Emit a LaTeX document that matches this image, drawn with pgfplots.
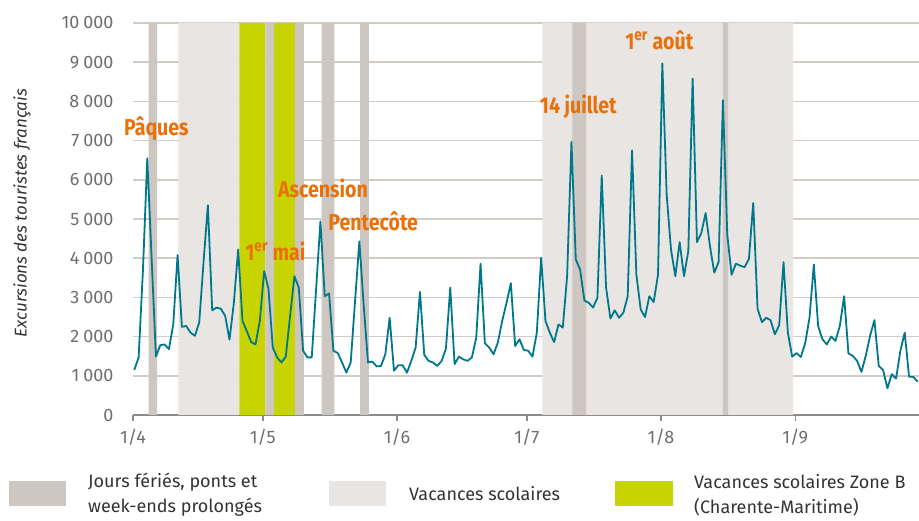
\documentclass[border=0pt]{standalone}
\usepackage{pgfplots}
\pgfplotsset{compat=1.18}
\usepackage{pgfplotstable}
\usepackage{fontspec}
\setmainfont{Fira Sans}
\newfontfamily\annfont[FakeStretch=0.85]{Fira Sans}
\definecolor{holc}{HTML}{CDC6C1}
\definecolor{vacc}{HTML}{E8E5E2}
\definecolor{zoneb}{HTML}{C8D400}
\definecolor{linec}{HTML}{00778B}
\definecolor{orangec}{HTML}{E8710A}
\definecolor{gridc}{HTML}{D2CCC7}
\definecolor{axc}{HTML}{8C8C8C}
\definecolor{tickc}{HTML}{6E6E6E}
\definecolor{txtc}{HTML}{333333}
\newcommand{\band}[3]{\addplot[fill=#3, draw=none, forget plot] coordinates {(#1,0) (#1,10000) (#2,10000) (#2,0)} \closedcycle;}
\pgfplotstableread{
d v
0 1150
1 1470
2 3700
3 6550
4 4000
5 1490
6 1780
7 1800
8 1680
9 2310
10 4080
11 2250
12 2270
13 2100
14 2020
15 2360
16 3900
17 5350
18 2670
19 2740
20 2710
21 2530
22 1920
23 2860
24 4220
25 2400
26 2140
27 1860
28 1800
29 2400
30 3670
31 3220
32 1720
33 1470
34 1340
35 1490
36 2530
37 3540
38 3250
39 1640
40 1470
41 1470
42 3200
43 4940
44 3030
45 3100
46 1640
47 1580
48 1340
49 1080
50 1340
51 2900
52 4430
53 2800
54 1340
55 1360
56 1240
57 1250
58 1550
59 2480
60 1130
61 1270
62 1270
63 1080
64 1380
65 1720
66 3140
67 1530
68 1380
69 1340
70 1250
71 1380
72 1690
73 3250
74 1300
75 1490
76 1420
77 1380
78 1470
79 1970
80 3860
81 1830
82 1720
83 1550
84 1850
85 2400
86 2860
87 3360
88 1760
89 1930
90 1660
91 1640
92 1490
93 2100
94 4010
95 2400
96 2100
97 1860
98 2310
99 2230
100 3540
101 6970
102 3970
103 3710
104 2920
105 2860
106 2740
107 2990
108 6110
109 3250
110 2460
111 2670
112 2480
113 2610
114 3030
115 6750
116 3580
117 2690
118 2500
119 3030
120 2880
121 3580
122 8970
123 5620
124 4220
125 3540
126 4410
127 3540
128 4180
129 8580
130 4410
131 4640
132 5150
133 4310
134 3630
135 3900
136 8030
137 4600
138 3580
139 3860
140 3810
141 3770
142 3980
143 5410
144 2710
145 2370
146 2480
147 2420
148 2060
149 2290
150 3900
151 2100
152 1490
153 1580
154 1480
155 1830
156 2480
157 3840
158 2270
159 1930
160 1800
161 2000
162 1890
163 2270
164 3030
165 1570
166 1510
167 1380
168 1100
169 1510
170 2020
171 2420
172 1250
173 1150
174 680
175 1040
176 930
177 1640
178 2100
179 980
180 970
181 850
}\data
\begin{document}
\begin{tikzpicture}
\useasboundingbox (0,0) rectangle (919pt,520pt);
\begin{axis}[
  at={(133pt,105pt)}, anchor=south west,
  width=786pt, height=392pt, scale only axis,
  xmin=0, xmax=181.6, ymin=0, ymax=10000,
  clip mode=individual,
  axis lines*=left,
  y axis line style={draw=none},
  x axis line style={color=axc, line width=1.6pt},
  xtick={0,30,61,91,122,153},
  xticklabels={1/4,1/5,1/6,1/7,1/8,1/9},
  ytick={0,1000,...,10000},
  scaled y ticks=false,
  xtick align=outside,
  major tick length=6pt,
  xtick style={color=axc, line width=1.4pt},
  ytick style={draw=none},
  ymajorgrids,
  grid style={color=gridc, line width=1.5pt},
  tick label style={font=\fontsize{18}{20}\selectfont, text=tickc},
  /pgf/number format/assume math mode=true,
  yticklabel style={/pgf/number format/1000 sep={\hspace{0.22em}}, xshift=-16pt},
  xticklabel style={yshift=-4pt},
  ylabel={Excursions des touristes français},
  ylabel style={at={(axis description cs:-0.1412,0.515)}, anchor=center, font=\itshape\fontsize{17}{20}\selectfont, text=txtc},
]
\band{10.5}{24.6}{vacc}
\band{94.6}{152.5}{vacc}
\band{24.6}{30.6}{zoneb}
\band{32.6}{37.4}{zoneb}
\band{3.6}{5.6}{holc}
\band{30.6}{32.6}{holc}
\band{37.4}{39.5}{holc}
\band{43.6}{46.5}{holc}
\band{52.5}{54.5}{holc}
\band{101.5}{104.7}{holc}
\band{136.3}{137.5}{holc}
\addplot[linec, line width=1.8pt, line join=round, mark=none] table[x expr=\thisrow{d}+0.3, y=v] {\data};
\begin{scope}[every node/.style={font=\annfont\bfseries\fontsize{23}{23}\selectfont, text=orangec, inner sep=0pt}]
\node at (axis cs:5.4,7295) {Pâques};
\node at (axis cs:32.9,4165) {1\textsuperscript{er} mai};
\node at (axis cs:43.9,5790) {Ascension};
\node at (axis cs:55.5,4954) {Pentecôte};
\node at (axis cs:102.9,7855) {14 juillet};
\node at (axis cs:121.6,9560) {1\textsuperscript{er} août};
\end{scope}
\end{axis}
\fill[holc] (9pt,14pt) rectangle (66pt,39pt);
\fill[vacc] (329pt,14pt) rectangle (386pt,39pt);
\fill[zoneb] (615pt,14pt) rectangle (673pt,39pt);
\begin{scope}[every node/.style={anchor=west, inner sep=0pt, align=left, text=txtc, font=\fontsize{18}{25}\selectfont}]
\node at (88pt,25pt) {Jours fériés, ponts et\\week-ends prolongés};
\node at (409pt,26.5pt) {Vacances scolaires};
\node at (694pt,25pt) {Vacances scolaires Zone B\\(Charente-Maritime)};
\end{scope}
\end{tikzpicture}
\end{document}
